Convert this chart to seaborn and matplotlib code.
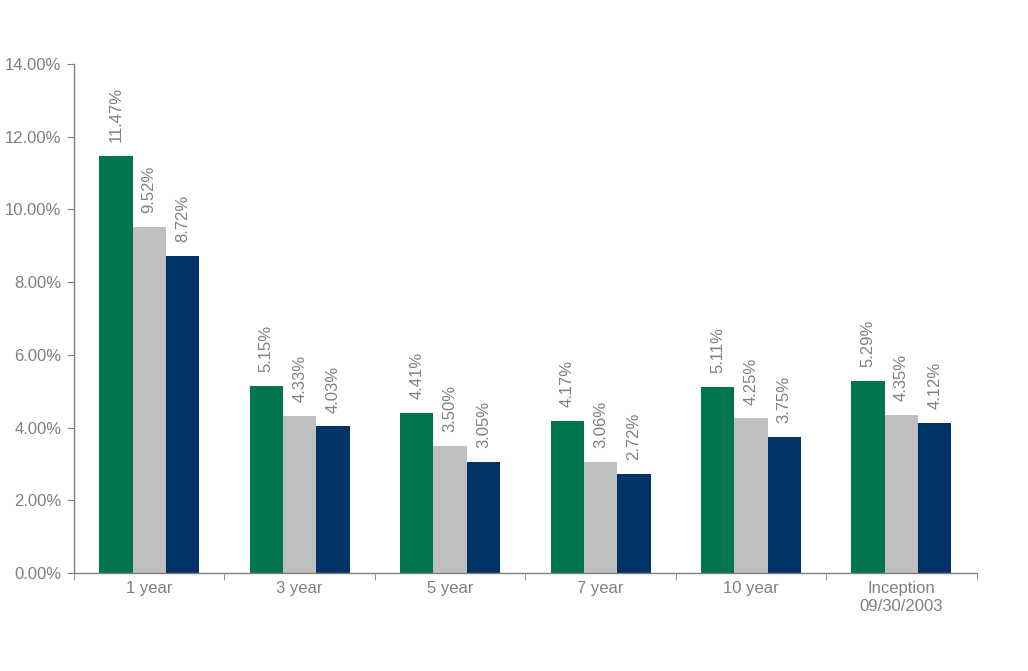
import numpy as np
import pandas as pd
import matplotlib
matplotlib.use('Agg')
import matplotlib.pyplot as plt
import seaborn as sns
from matplotlib.ticker import FuncFormatter, FixedLocator

periods = ['1 year', '3 year', '5 year', '7 year', '10 year', 'Inception\n09/30/2003']
series = ['Series A', 'Series B', 'Series C']
series_a = [11.47, 5.15, 4.41, 4.17, 5.11, 5.29]
series_b = [9.52, 4.33, 3.50, 3.06, 4.25, 4.35]
series_c = [8.72, 4.03, 3.05, 2.72, 3.75, 4.12]

df = pd.DataFrame({
    'period': periods * 3,
    'series': [s for s in series for _ in periods],
    'value': series_a + series_b + series_c,
})

sns.set_style('white')
plt.rcParams['font.family'] = ['Liberation Sans', 'DejaVu Sans']
grey = '#808080'
pal = ['#00754f', '#bfbfbf', '#003366']

fig = plt.figure(figsize=(10.28, 6.71), dpi=100)
ax = fig.add_axes([0.072, 0.146, 0.878, 0.759])

sns.barplot(data=df, x='period', y='value', hue='series', order=periods,
            hue_order=series, palette=pal, width=0.665, saturation=1,
            linewidth=0, legend=False, ax=ax)

for c in ax.containers:
    ax.bar_label(c, labels=['%.2f%%' % v for v in c.datavalues], rotation=90,
                 padding=10, color=grey, fontsize=12)

ax.set_ylim(0, 14)
ax.set_xlim(-0.5, len(periods) - 0.5)
ax.set_yticks(np.arange(0, 15, 2))
ax.yaxis.set_major_formatter(FuncFormatter(lambda v, p: '%.2f%%' % v))
ax.set_xlabel('')
ax.set_ylabel('')

ax.xaxis.set_minor_locator(FixedLocator(np.arange(-0.5, len(periods), 1)))
ax.tick_params(axis='x', which='major', length=0, labelsize=12, labelcolor=grey, pad=6)
ax.tick_params(axis='x', which='minor', length=5, color=grey, direction='out', bottom=True)
ax.tick_params(axis='y', length=5, color=grey, direction='out', left=True,
               labelsize=12, labelcolor=grey, pad=4)

sns.despine(ax=ax)
for s in ['left', 'bottom']:
    ax.spines[s].set_color(grey)
    ax.spines[s].set_linewidth(1)

plt.savefig('out.png', dpi=100)
plt.close()
